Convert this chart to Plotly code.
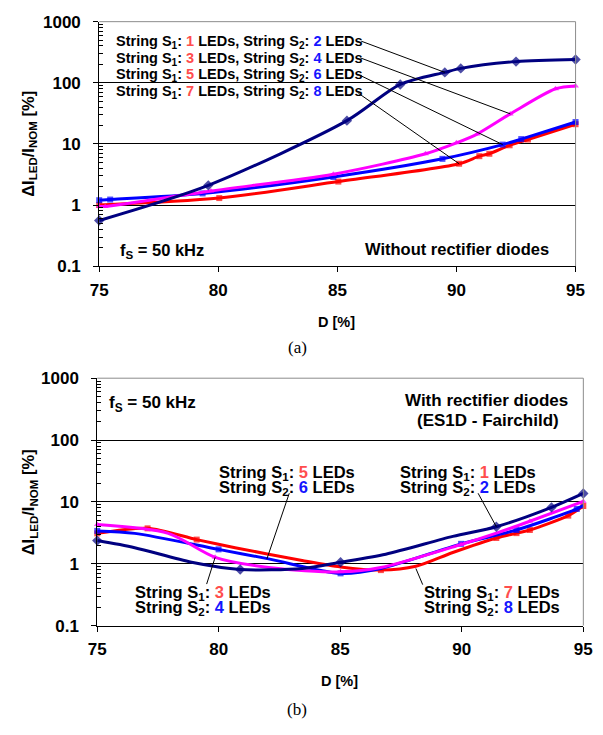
import plotly.graph_objects as go

W, H = 603, 735

# ---------------- data: chart (a) without rectifier diodes ----------------
a_navy_x = [75, 79.58, 85.4, 87.64, 89.51, 90.18, 92.5, 95]
a_navy_y = [0.56, 2.1, 24, 94, 148, 172, 222, 240]
a_mag_x = [75, 75.25, 79.69, 84.83, 88.7, 90.0, 90.87, 92.26, 94.16, 95]
a_mag_y = [0.95, 0.95, 1.7, 3.2, 6.9, 10.4, 14.5, 31, 80, 89]
a_blue_x = [75, 75.46, 79.34, 84.83, 89.41, 91.94, 92.72, 95]
a_blue_y = [1.2, 1.23, 1.55, 2.88, 5.7, 9.75, 12.0, 22.8]
a_red_x = [75, 80.04, 85.04, 90.11, 90.96, 91.38, 92.23, 93.0, 95]
a_red_y = [1.0, 1.3, 2.42, 4.74, 6.3, 6.9, 9.5, 11.8, 21]

# ---------------- data: chart (b) with rectifier diodes ----------------
b_navy_x = [75, 76.54, 78.88, 80.88, 83.43, 85.01, 86.87, 89.63, 91.42, 93.69, 95]
b_navy_y = [2.37, 1.82, 1.06, 0.81, 0.84, 1.06, 1.43, 2.77, 3.97, 8.15, 13.7]
b_navy_marked = [0, 3, 5, 8, 9, 10]
b_red_x = [75, 77.07, 79.09, 80.67, 83.43, 85.01, 86.67, 88.11, 89.63, 91.42, 92.25, 92.8, 94.38, 95]
b_red_y = [3.1, 3.74, 2.46, 1.82, 1.13, 0.89, 0.79, 0.91, 1.52, 2.61, 3.13, 3.52, 6.0, 8.6]
b_red_marked = [0, 1, 2, 6, 9, 10, 11, 12, 13]
b_mag_x = [75, 77.92, 79.85, 82.05, 85.01, 86.67, 89.97, 91.42, 92.8, 95]
b_mag_y = [4.3, 3.1, 1.27, 0.87, 0.74, 0.87, 2.05, 3.13, 4.87, 10.2]
b_mag_marked = [0, 2, 4, 6, 8, 9]
b_blue_x = [75, 76.54, 79.99, 82.05, 85.01, 86.67, 89.97, 92.25, 94.73, 95]
b_blue_y = [3.4, 3.1, 1.71, 1.2, 0.70, 0.84, 2.1, 3.52, 7.7, 8.8]
b_blue_marked = [0, 2, 4, 6, 7, 8]

x_ticks = [75, 80, 85, 90, 95]
y_ticks = [0.1, 1, 10, 100, 1000]
y_ticktext = ["0.1", "1", "10", "100", "1000"]
y_minor = [m * d for d in (0.1, 1, 10, 100) for m in range(2, 10)]

NAVY, MAG, BLUE, RED = "#000080", "#ff00ff", "#0000ff", "#ff0000"
NUM_RED, NUM_BLUE = "#ff4d4d", "#1515ff"
FONT = "Liberation Sans, Arial, sans-serif"


def px(x):
    return x / W


def py(y):
    return 1 - y / H


def sizes(n, marked, s):
    if marked is None:
        return [s] * n
    return [s if i in marked else 0 for i in range(n)]


fig = go.Figure()


def add(xs, ys, color, symbol, xa, ya, marked=None, msize=7):
    fig.add_trace(go.Scatter(
        x=xs, y=ys, mode="lines+markers", xaxis=xa, yaxis=ya,
        line=dict(color=color, width=3, shape="spline", smoothing=0.8),
        marker=dict(color=color, symbol=symbol, size=sizes(len(xs), marked, msize), line=dict(width=0)),
        cliponaxis=False, showlegend=False, hoverinfo="x+y"))


add(a_red_x, a_red_y, RED, "square", "x", "y", msize=6)
add(a_blue_x, a_blue_y, BLUE, "square", "x", "y", msize=6)
add(a_mag_x, a_mag_y, MAG, "triangle-up", "x", "y", msize=6)
add(a_navy_x, a_navy_y, NAVY, "diamond", "x", "y", msize=8)

add(b_red_x, b_red_y, RED, "square", "x2", "y2", b_red_marked, 6)
add(b_blue_x, b_blue_y, BLUE, "square", "x2", "y2", b_blue_marked, 6)
add(b_mag_x, b_mag_y, MAG, "triangle-up", "x2", "y2", b_mag_marked, 6)
add(b_navy_x, b_navy_y, NAVY, "diamond", "x2", "y2", b_navy_marked, 8)

tickfont = dict(family=FONT, size=17, color="black", weight="bold")


def xaxis(dom, anchor):
    return dict(domain=dom, anchor=anchor, range=[75, 95], tickvals=x_ticks,
                ticks="outside", ticklen=5, tickcolor="black", showline=True,
                linecolor="black", linewidth=1, showgrid=False, zeroline=False,
                tickfont=tickfont, ticklabelstandoff=3, fixedrange=True)


def yaxis(dom, anchor):
    return dict(domain=dom, anchor=anchor, type="log", range=[-1, 3],
                tickvals=y_ticks, ticktext=y_ticktext, ticks="outside", ticklen=5,
                tickcolor="black", showline=True, linecolor="black", linewidth=1,
                showgrid=True, gridcolor="black", gridwidth=1, zeroline=False,
                tickfont=tickfont, ticklabelstandoff=9, fixedrange=True,
                minor=dict(ticks="inside", ticklen=4, tickcolor="black", tickmode="array",
                           tickvals=y_minor, showgrid=False))


fig.update_layout(
    width=W, height=H, margin=dict(l=0, r=0, t=0, b=0),
    paper_bgcolor="white", plot_bgcolor="white",
    xaxis=xaxis([93 / W, 584 / W], "y"),
    yaxis=yaxis([1 - 264 / H, 1 - 13 / H], "x"),
    xaxis2=xaxis([91 / W, 592 / W], "y2"),
    yaxis2=yaxis([1 - 633 / H, 1 - 379 / H], "x2"),
)

shapes = []
# gray top/right borders
for xr, yr in (("x", "y"), ("x2", "y2")):
    shapes.append(dict(type="line", xref=xr + " domain", yref=yr + " domain", x0=0, x1=1, y0=1, y1=1,
                       line=dict(color="#8c8c8c", width=1), layer="above"))
    shapes.append(dict(type="line", xref=xr + " domain", yref=yr + " domain", x0=1, x1=1, y0=0, y1=1,
                       line=dict(color="#8c8c8c", width=1), layer="above"))

# leader lines: from label (D, value) to a point on the curve
leaders_a = [((86.0, 480), (a_navy_x[4], a_navy_y[4])),
             ((85.96, 256), (a_mag_x[7], a_mag_y[7])),
             ((85.96, 132), (a_blue_x[5], a_blue_y[5])),
             ((85.88, 67.6), (a_red_x[3], a_red_y[3]))]
leaders_b = [((82.9, 13.8), (81.98, 1.2)),
             ((90.67, 13.8), (b_navy_x[8], b_navy_y[8])),
             ((b_mag_x[2], b_mag_y[2]), (79.5, 0.47)),
             ((88.11, 0.84), (88.39, 0.46))]
for (p0, p1) in leaders_a:
    shapes.append(dict(type="line", xref="x", yref="y", x0=p0[0], y0=p0[1], x1=p1[0], y1=p1[1],
                       line=dict(color="black", width=1)))
for (p0, p1) in leaders_b:
    shapes.append(dict(type="line", xref="x2", yref="y2", x0=p0[0], y0=p0[1], x1=p1[0], y1=p1[1],
                       line=dict(color="black", width=1)))
fig.update_layout(shapes=shapes)


def num(n, c):
    return f"<span style='color:{c}'>{n}</span>"


ann = []


def txt(text, x, y, size, xanchor="left", angle=0, family=FONT, weight="bold"):
    ann.append(dict(text=text, x=px(x), y=py(y), xref="paper", yref="paper", showarrow=False,
                    xanchor=xanchor, yanchor="middle", textangle=angle, borderpad=0,
                    font=dict(family=family, size=size, color="black", weight=weight)))


# chart (a) legend
for i, (n1, n2) in enumerate([(1, 2), (3, 4), (5, 6), (7, 8)]):
    txt(f"String S<sub>1</sub>: {num(n1, NUM_RED)} LEDs, String S<sub>2</sub>: {num(n2, NUM_BLUE)} LEDs",
        109, 34 + 17 * i, 14.5)
txt("f<sub>S</sub> = 50 kHz", 113, 248, 16.5)
txt("Without rectifier diodes", 558, 246, 16.5, xanchor="right")
txt("D [%]", 338, 321, 14.5, xanchor="center")
txt("(a)", 297, 347, 17, xanchor="center", family="Liberation Serif, Times New Roman, serif", weight="normal")
txt("ΔI<sub>LED</sub>/I<sub>NOM</sub> [%]", 21, 138, 16.5, xanchor="center", angle=-90)

# chart (b)
txt("f<sub>S</sub> = 50 kHz", 102, 405, 17)
txt("With rectifier diodes", 492, 402, 17, xanchor="center")
txt("(ES1D - Fairchild)", 494, 422, 17, xanchor="center")
for (n1, n2, x0, y0) in [(5, 6, 215, 476), (1, 2, 402, 476), (3, 4, 129, 599), (7, 8, 427, 599)]:
    txt(f"String S<sub>1</sub>: {num(n1, NUM_RED)} LEDs", x0, y0, 16.5)
    txt(f"String S<sub>2</sub>: {num(n2, NUM_BLUE)} LEDs", x0, y0 + 16, 16.5)
txt("D [%]", 341, 690, 14.5, xanchor="center")
txt("(b)", 297, 719, 17, xanchor="center", family="Liberation Serif, Times New Roman, serif", weight="normal")
txt("ΔI<sub>LED</sub>/I<sub>NOM</sub> [%]", 21, 506, 16.5, xanchor="center", angle=-90)

fig.update_layout(annotations=ann)
fig.write_html("out.html")
